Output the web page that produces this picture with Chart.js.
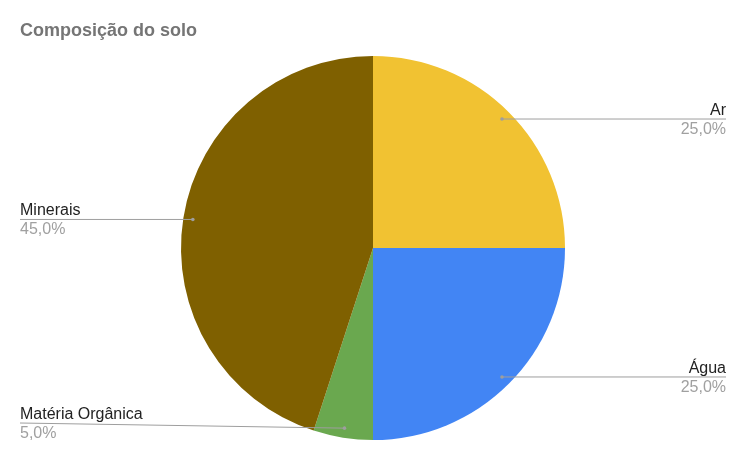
<!DOCTYPE html>
<html>
<head>
<meta charset="utf-8">
<script src="https://cdn.jsdelivr.net/npm/chart.js@4"></script>
<style>
    html, body { margin: 0; padding: 0; background: #fff; }
    #wrap { width: 746px; height: 451px; }
</style>
</head>
<body>
<div id="wrap"><canvas id="grafico"></canvas></div>
<script>
const titulo = 'Composição do solo';
const categorias = ['Ar', 'Água', 'Matéria Orgânica', 'Minerais'];
const valores = [25, 25, 5, 45];
const cores = ['#f1c232', '#4285f4', '#6aa84f', '#7f6000'];

const fonte = '"Liberation Sans", Arial, sans-serif';

function formatarPct(v, total) {
    return (v / total * 100).toFixed(1).replace('.', ',') + '%';
}

// rótulos com linha de chamada, estilo Google Charts
const rotulosPlugin = {
    id: 'rotulos',
    afterDatasetsDraw(chart) {
        const ctx = chart.ctx;
        const meta = chart.getDatasetMeta(0);
        const total = valores.reduce((a, b) => a + b, 0);
        const W = chart.width, H = chart.height;
        ctx.save();
        meta.data.forEach((arc, i) => {
            const p = arc.getProps(['x', 'y', 'startAngle', 'endAngle', 'outerRadius'], true);
            const meio = (p.startAngle + p.endAngle) / 2;
            const ax = p.x + Math.cos(meio) * p.outerRadius * 0.95;
            const ay = p.y + Math.sin(meio) * p.outerRadius * 0.95;
            const direita = Math.cos(meio) >= 0;
            const xFim = direita ? W - 20 : 20;
            const yLinha = Math.min(ay, H - 28);

            ctx.strokeStyle = '#9e9e9e';
            ctx.lineWidth = 1;
            ctx.beginPath();
            ctx.moveTo(ax, ay);
            ctx.lineTo(xFim, yLinha);
            ctx.stroke();

            ctx.fillStyle = '#9e9e9e';
            ctx.beginPath();
            ctx.arc(ax, ay, 1.8, 0, Math.PI * 2);
            ctx.fill();

            ctx.textAlign = direita ? 'right' : 'left';
            ctx.textBaseline = 'alphabetic';
            ctx.font = '16px ' + fonte;
            ctx.fillStyle = '#222222';
            ctx.fillText(categorias[i], xFim, yLinha - 4);
            ctx.fillStyle = '#a0a0a0';
            ctx.fillText(formatarPct(valores[i], total), xFim, yLinha + 15);
        });
        ctx.restore();
    }
};

new Chart(document.getElementById('grafico'), {
    type: 'pie',
    data: {
        labels: categorias,
        datasets: [{
            data: valores,
            backgroundColor: cores,
            borderWidth: 0
        }]
    },
    options: {
        responsive: true,
        maintainAspectRatio: false,
        animation: false,
        layout: {
            padding: { top: 0, bottom: 11, left: 20, right: 20 }
        },
        plugins: {
            legend: { display: false },
            tooltip: { enabled: false },
            title: {
                display: true,
                text: titulo,
                align: 'start',
                color: '#757575',
                font: { family: fonte, size: 18, weight: 'bold' },
                padding: { top: 20, bottom: 14.4 }
            }
        }
    },
    plugins: [rotulosPlugin]
});
</script>
</body>
</html>
